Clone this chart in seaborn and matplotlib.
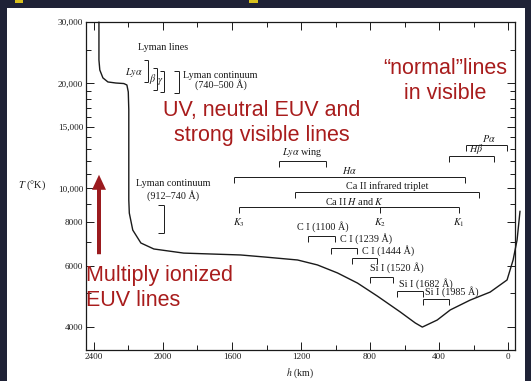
import matplotlib
matplotlib.use("Agg")
import matplotlib.pyplot as plt
from matplotlib.patches import Rectangle, FancyArrowPatch
from matplotlib.ticker import FixedLocator, FixedFormatter, NullFormatter
import pandas as pd
import seaborn as sns

# Temperature structure of the solar atmosphere (height above tau=1, temperature)
height_km = [2371, 2371, 2366, 2348, 2319, 2273, 2227, 2209, 2201, 2198,
             2198, 2195, 2175, 2128, 2053, 1880, 1550, 1405, 1220, 1105,
             989, 873, 758, 625, 538, 497, 411, 335, 220, 104,
             6, -29, -52, -69]
temperature_K = [30000, 23340, 21850, 20740, 20190, 20050, 19980, 19790, 18900, 16780,
                 9260, 8490, 7590, 6970, 6700, 6520, 6440, 6350, 6230, 6030,
                 5720, 5350, 4910, 4420, 4110, 4000, 4190, 4480, 4780, 5040,
                 5460, 6230, 7110, 8600]

x_major = [2400, 2000, 1600, 1200, 800, 400, 0]
x_labels = ["2400", "2000", "1600", "1200", "800", "400", "0"]
x_minor = [2200, 1800, 1400, 1000, 600, 200]
y_major = [4000, 6000, 8000, 10000, 15000, 20000, 30000]
y_labels = ["4000", "6000", "8000", "10,000", "15,000", "20,000", "30,000"]
y_minor = [5000, 7000, 9000, 11000, 12000, 13000, 14000,
           16000, 17000, 18000, 19000, 25000]

# Formation-height ranges of spectral features (km)
lya_wing = (1330, 1053)
h_alpha = (1590, 249)
ca_ir_triplet = (1232, 168)
ca_hk = (1562, 283)
k_points = {"$K_3$": 1562, "$K_2$": 740, "$K_1$": 283}
p_alpha = (243, 6)
h_beta = (341, 81)
c1_1100 = (1157, 1001)
c1_1239 = (1024, 873)
c1_1444 = (902, 758)
si1_1520 = (798, 665)
si1_1682 = (642, 492)
si1_1985 = (492, 341)

df = pd.DataFrame({"h": height_km, "T": temperature_K})

sns.set_theme(style="ticks")
plt.rcParams["font.family"] = ["Liberation Serif", "DejaVu Serif"]
plt.rcParams["mathtext.fontset"] = "stix"

W, H = 531, 381
fig = plt.figure(figsize=(W / 100, H / 100), dpi=100)
fig.patch.set_facecolor("#1f2236")
fig.add_artist(Rectangle((7 / W, 0), (525 - 7) / W, (H - 8) / H,
                         transform=fig.transFigure, facecolor="white",
                         edgecolor="none", zorder=-5))
for x0, x1 in [(15, 23), (249, 258)]:
    fig.add_artist(Rectangle((x0 / W, 1 - 2.5 / H), (x1 - x0) / W, 2.5 / H,
                             transform=fig.transFigure, facecolor="#d8c01c",
                             edgecolor="none", zorder=-4))

ax = fig.add_axes([86 / W, 1 - 350 / H, 429 / W, 328 / H])
ax.set_facecolor("white")
ax.set_yscale("log")

ink = "#1a1a1a"
sns.lineplot(data=df, x="h", y="T", sort=False, estimator=None, ax=ax,
             color=ink, lw=1.0, clip_on=False)

ax.set_xlim(2446, -40)
ax.set_ylim(3438, 30000)

ax.xaxis.set_major_locator(FixedLocator(x_major))
ax.xaxis.set_major_formatter(FixedFormatter(x_labels))
ax.xaxis.set_minor_locator(FixedLocator(x_minor))
ax.xaxis.set_minor_formatter(NullFormatter())
ax.yaxis.set_major_locator(FixedLocator(y_major))
ax.yaxis.set_major_formatter(FixedFormatter(y_labels))
ax.yaxis.set_minor_locator(FixedLocator(y_minor))
ax.yaxis.set_minor_formatter(NullFormatter())

ax.tick_params(which="both", direction="in", top=True, right=True,
               labelsize=6.6, width=0.7, color=ink, labelcolor=ink, pad=2)
ax.tick_params(which="major", length=6)
ax.tick_params(which="minor", length=3.5)
for sp in ax.spines.values():
    sp.set_linewidth(0.9)
    sp.set_color(ink)

ax.set_xlabel("$h$ (km)", fontsize=7.0, color=ink)
ax.xaxis.label.set_va("center")
ax.xaxis.set_label_coords(0.499, -0.072)
ax.set_ylabel("$T$ (°K)", fontsize=7.5, color=ink, rotation=0,
              ha="center", va="center")
ax.yaxis.set_label_coords(-0.126, 0.503)

trans = ax.get_xaxis_transform()
line_kw = dict(color=ink, lw=0.7, transform=trans, clip_on=False,
               solid_capstyle="butt")
txt_kw = dict(transform=trans, fontsize=7.3, color=ink)
drop = 0.018


def hbracket(span, y, ticks=None):
    h0, h1 = span
    ax.plot([h0, h1], [y, y], **line_kw)
    for t in (ticks if ticks is not None else [h0, h1]):
        ax.plot([t, t], [y, y - drop], **line_kw)


def vbracket(h, y0, y1, h_end):
    ax.plot([h, h], [y0, y1], **line_kw)
    ax.plot([h_end, h], [y0, y0], **line_kw)
    ax.plot([h_end, h], [y1, y1], **line_kw)


# Lyman series
ax.text(1997, 0.921, "Lyman lines", ha="center", va="center", **txt_kw)
vbracket(2088, 0.884, 0.817, 2111)
ax.text(2117, 0.845, r"$Ly\alpha$", ha="right", va="center", **txt_kw)
vbracket(2036, 0.860, 0.793, 2059)
ax.text(2061, 0.826, r"$\beta$", ha="center", va="center", **txt_kw)
vbracket(1995, 0.851, 0.787, 2018)
ax.text(2015, 0.820, r"$\gamma$", ha="center", va="center", **txt_kw)
vbracket(1909, 0.851, 0.784, 1938)
ax.text(1886, 0.838, "Lyman continuum", ha="left", va="center", **txt_kw)
ax.text(1665, 0.808, "(740–500 Å)", ha="center", va="center", **txt_kw)

ax.text(1943, 0.509, "Lyman continuum", ha="center", va="center", **txt_kw)
ax.text(1943, 0.470, "(912–740 Å)", ha="center", va="center", **txt_kw)
vbracket(1995, 0.442, 0.357, 2030)

# Hydrogen, calcium lines
hbracket(lya_wing, 0.576)
ax.text(sum(lya_wing) / 2, 0.601, r"$Ly\alpha$ wing", ha="center", va="center", **txt_kw)
hbracket(h_alpha, 0.527)
ax.text(920, 0.547, r"$H\alpha$", ha="center", va="center", **txt_kw)
hbracket(ca_ir_triplet, 0.482)
ax.text(700, 0.500, "Ca II infrared triplet", ha="center", va="center", **txt_kw)
hbracket(ca_hk, 0.436, ticks=list(k_points.values()))
ax.text(890, 0.454, "Ca II $H$ and $K$", ha="center", va="center", **txt_kw)
for lab, hk in k_points.items():
    ax.text(hk, 0.388, lab, ha="center", va="center", **txt_kw)

hbracket(p_alpha, 0.625)
ax.text(110, 0.646, r"$P\alpha$", ha="center", va="center", **txt_kw)
hbracket(h_beta, 0.591)
ax.text(185, 0.612, r"$H\beta$", ha="center", va="center", **txt_kw)

# Carbon and silicon continua
ax.text(1076, 0.375, "C I (1100 Å)", ha="center", va="center", **txt_kw)
hbracket(c1_1100, 0.348)
ax.text(977, 0.340, "C I (1239 Å)", ha="left", va="center", **txt_kw)
hbracket(c1_1239, 0.311)
ax.text(846, 0.303, "C I (1444 Å)", ha="left", va="center", **txt_kw)
hbracket(c1_1444, 0.280)
ax.text(798, 0.250, "Si I (1520 Å)", ha="left", va="center", **txt_kw)
hbracket(si1_1520, 0.223)
ax.text(630, 0.204, "Si I (1682 Å)", ha="left", va="center", **txt_kw)
hbracket(si1_1682, 0.180)
ax.text(480, 0.177, "Si I (1985 Å)", ha="left", va="center", **txt_kw)
hbracket(si1_1985, 0.155)

# Highlighted regions
red = "#a81c1c"
red_kw = dict(color=red, fontsize=15.5, family=["Liberation Sans", "DejaVu Sans"],
              linespacing=1.2)
fig.text(262 / W, 1 - 123 / H, "UV, neutral EUV and\nstrong visible lines",
         ha="center", va="center", multialignment="center", **red_kw)
fig.text(445 / W, 1 - 81 / H, "\u201cnormal\u201dlines\nin visible",
         ha="center", va="center", multialignment="center", **red_kw)
fig.text(86 / W, 1 - 288 / H, "Multiply ionized\nEUV lines",
         ha="left", va="center", multialignment="left", **red_kw)

arrow = FancyArrowPatch((99 / W, 1 - 257 / H), (99 / W, 1 - 172 / H),
                        transform=fig.transFigure,
                        arrowstyle="simple,head_length=0.6,head_width=0.56,tail_width=0.16",
                        mutation_scale=18, color="#9b1b1f", lw=0, zorder=5)
fig.add_artist(arrow)

fig.savefig("out.png", dpi=100)
